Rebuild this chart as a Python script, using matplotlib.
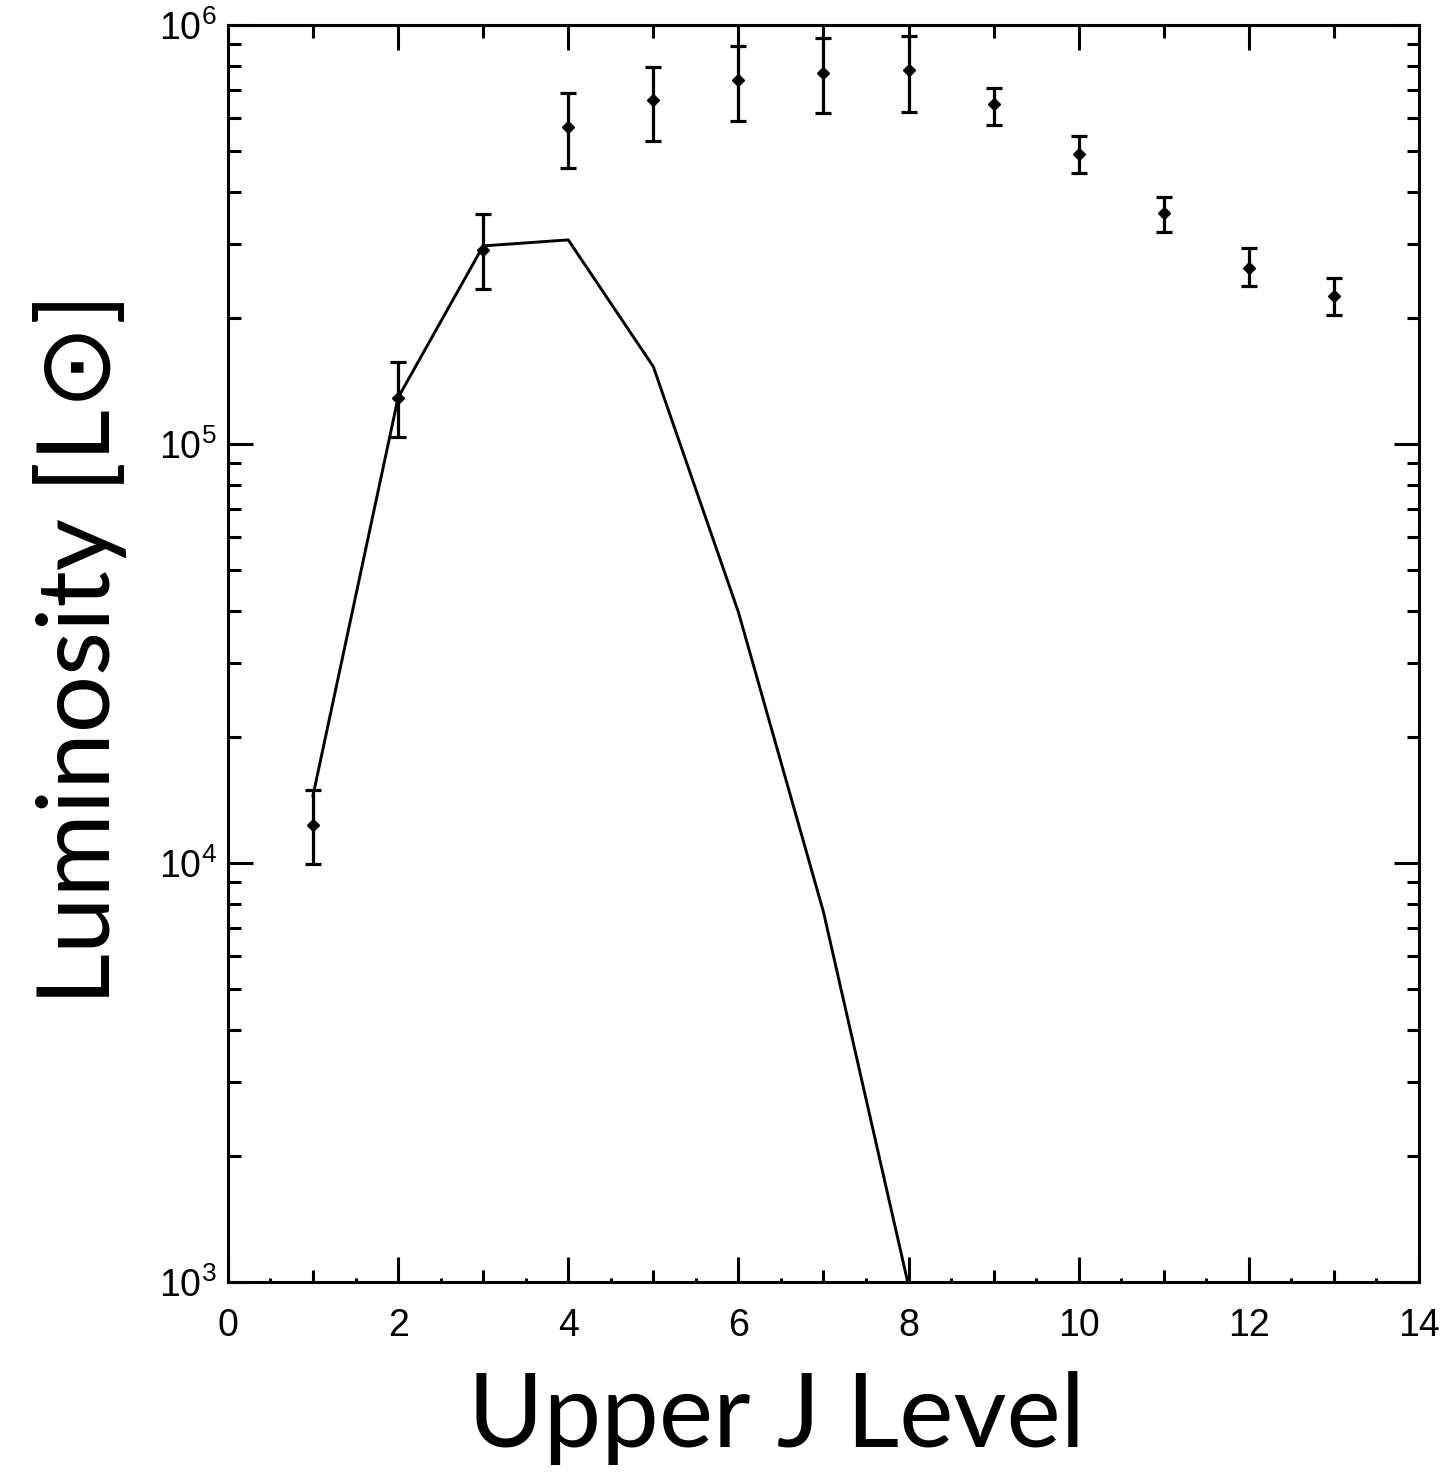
import matplotlib
matplotlib.use("Agg")
import matplotlib.pyplot as plt
from matplotlib.ticker import MultipleLocator, LogLocator, NullFormatter

plt.rcParams['mathtext.fontset'] = 'custom'
plt.rcParams['mathtext.rm'] = 'Liberation Sans'
plt.rcParams['font.family'] = ['Liberation Sans', 'DejaVu Sans']

# observed points (upper J level, luminosity, error bar limits)
j_obs = [1, 2, 3, 4, 5, 6, 7, 8, 9, 10, 11, 12, 13]
lum_obs = [12300, 129000, 290000, 571000, 662000, 740000, 768000, 781000,
           648000, 492000, 356000, 263000, 226000]
lum_hi = [14900, 157000, 354000, 689000, 794000, 891000, 931000, 942000,
          708000, 543000, 389000, 294000, 249000]
lum_lo = [9950, 104000, 234000, 456000, 528000, 590000, 617000, 620000,
          577000, 443000, 321000, 238000, 203000]

# model curve
j_mod = [1, 2, 3, 4, 5, 6, 7, 8]
lum_mod = [14500, 129000, 297000, 307000, 153000, 39700, 7640, 980]

err_lo = [v - l for v, l in zip(lum_obs, lum_lo)]
err_hi = [h - v for v, h in zip(lum_obs, lum_hi)]

fig = plt.figure(figsize=(14.4, 14.82), dpi=100)
ax = fig.add_axes([0.1583, 0.13495, 0.8271, 0.84818])

ax.plot(j_mod, lum_mod, color='black', lw=2.1)
ax.errorbar(j_obs, lum_obs, yerr=[err_lo, err_hi], fmt='D', color='black',
            ms=6.5, elinewidth=2.3, capsize=6, capthick=2.3)

ax.set_yscale('log')
ax.set_xlim(0, 14)
ax.set_ylim(1e3, 1e6)

ax.xaxis.set_major_locator(MultipleLocator(2))
ax.xaxis.set_minor_locator(MultipleLocator(1))
ax.yaxis.set_major_locator(LogLocator(base=10, numticks=10))
ax.yaxis.set_minor_locator(LogLocator(base=10, subs=range(2, 10), numticks=20))
ax.yaxis.set_minor_formatter(NullFormatter())

for s in ax.spines.values():
    s.set_linewidth(2.2)

ax.tick_params(which='both', direction='in', top=True, right=True, width=2.2)
ax.tick_params(which='major', length=18)
ax.tick_params(which='minor', length=9)
ax.tick_params(axis='x', labelsize=27, pad=19)
ax.tick_params(axis='y', labelsize=27, pad=8)

# tiny ticks at the half levels
sec = ax.secondary_xaxis('bottom')
sec.set_xticks([0.5, 1.5, 2.5, 3.5, 4.5, 5.5, 6.5, 7.5, 8.5, 9.5, 10.5, 11.5, 12.5, 13.5])
sec.tick_params(direction='in', length=3, width=2.2, labelbottom=False)
sec.spines['bottom'].set_visible(False)

ax.set_xlabel('Upper J Level', fontsize=74, family=['Lato', 'DejaVu Sans'])
ax.xaxis.set_label_coords(0.4605, -0.071, transform=ax.transAxes)
ax.xaxis.label.set_va('top')
ax.set_ylabel('Luminosity [L\u2299]', fontsize=73, family=['Lato', 'DejaVu Sans'])
ax.yaxis.set_label_coords(-0.085, 0.504, transform=ax.transAxes)

fig.savefig('out.png', dpi=100)
